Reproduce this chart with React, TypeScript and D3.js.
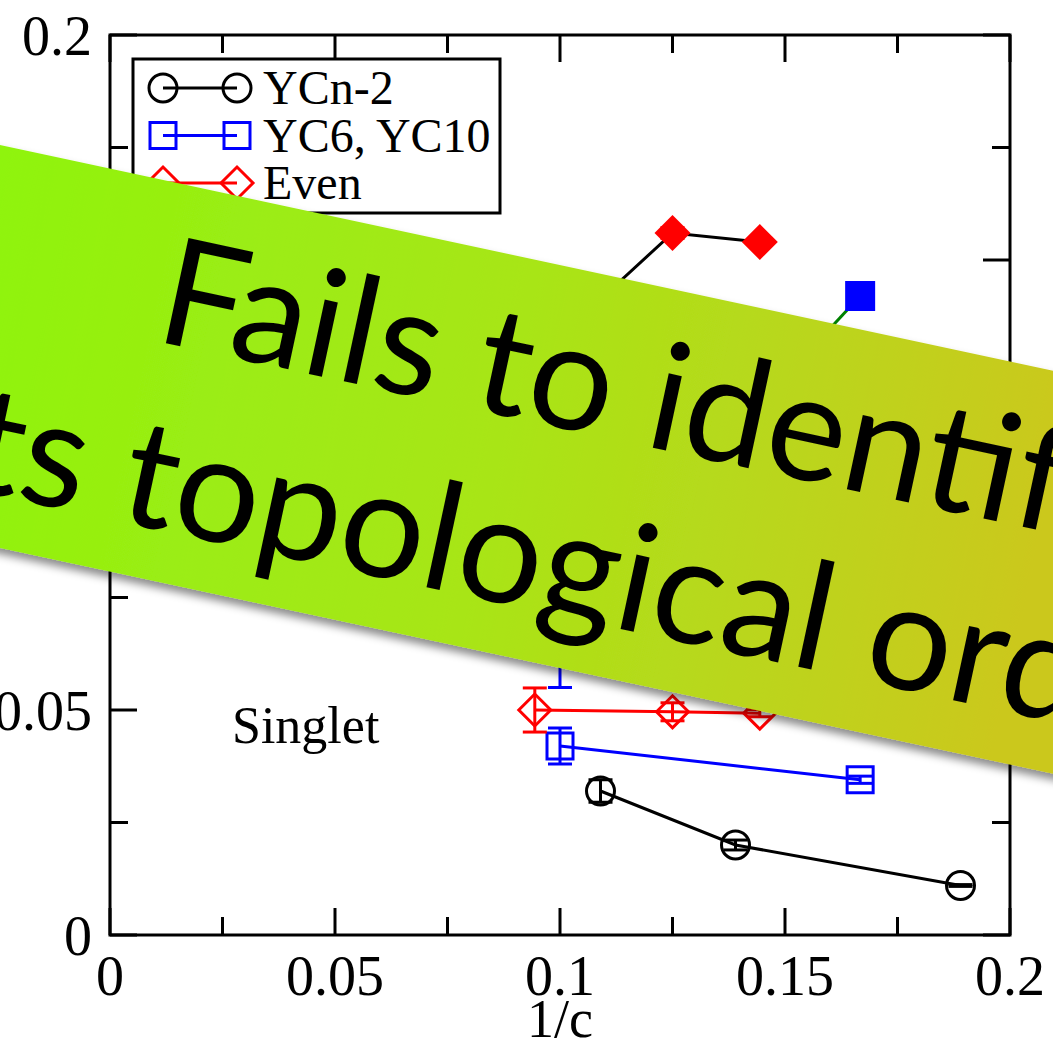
import React, { useEffect, useRef } from "react";
import * as d3 from "d3";

const W = 1053;
const H = 1052;

// open black circles, YCn-2
const ycnX = [0.109, 0.139, 0.189];
const ycnY = [0.032, 0.02, 0.011];
const ycnErr = [0.0025, 0.0011, 0.0002];

// open blue squares, YC6 / YC10
const yc610X = [0.1, 0.1667];
const yc610Y = [0.042, 0.0345];
const yc610Err = [0.004, 0.0008];

// open red diamonds, Even
const evenX = [0.0944, 0.125, 0.1444];
const evenY = [0.05, 0.0496, 0.0493];
const evenErr = [0.0049, 0.002, 0.0008];

// filled red diamonds (black line), mostly under the banner
const redFillX = [0.1, 0.125, 0.1444];
const redFillY = [0.133, 0.156, 0.154];
const redFillErr = [0, 0.0012, 0];

// filled blue squares (green line), mostly under the banner
const blueFillX = [0.1, 0.1667];
const blueFillY = [0.07, 0.142];
const blueFillErr = [0.015, 0];

const legendNames = ["YCn-2", "YC6, YC10", "Even"];
const xTickLabels = ["0", "0.05", "0.1", "0.15", "0.2"];
const yTickLabels = ["0", "0.05", "0.1", "0.15", "0.2"];
const bannerLines = ["Fails to identify", "its topological order"];

const App = () => {
  const ref = useRef<SVGSVGElement>(null);

  useEffect(() => {
    const svg = d3.select(ref.current);
    svg.selectAll("*").remove();

    const margin = { left: 110, right: 43, top: 35, bottom: 117 };
    const x = d3.scaleLinear().domain([0, 0.2]).range([margin.left, W - margin.right]);
    const y = d3.scaleLinear().domain([0, 0.2]).range([H - margin.bottom, margin.top]);
    const serif = "'Liberation Serif', 'Times New Roman', serif";

    const series = [
      { xs: ycnX, ys: ycnY, es: ycnErr, color: "#000", line: "#000", shape: "circle", filled: false },
      { xs: yc610X, ys: yc610Y, es: yc610Err, color: "#0000ff", line: "#0000ff", shape: "square", filled: false },
      { xs: evenX, ys: evenY, es: evenErr, color: "#ff0000", line: "#ff0000", shape: "diamond", filled: false },
      { xs: redFillX, ys: redFillY, es: redFillErr, color: "#ff0000", line: "#000", shape: "diamond", filled: true },
      { xs: blueFillX, ys: blueFillY, es: blueFillErr, color: "#0000ff", line: "#008000", shape: "square", filled: true },
    ];

    const drawMarker = (g, shape, cx, cy, color, filled) => {
      if (shape === "circle") {
        g.append("circle").attr("cx", cx).attr("cy", cy).attr("r", 14)
          .attr("fill", "none").attr("stroke", color).attr("stroke-width", 3);
      } else if (shape === "square") {
        const s = filled ? 15 : 13;
        g.append("rect").attr("x", cx - s).attr("y", cy - s).attr("width", 2 * s).attr("height", 2 * s)
          .attr("fill", filled ? color : "none").attr("stroke", filled ? "none" : color).attr("stroke-width", 3);
      } else {
        const s = filled ? 18 : 16;
        g.append("path").attr("d", `M${cx - s},${cy}L${cx},${cy - s}L${cx + s},${cy}L${cx},${cy + s}Z`)
          .attr("fill", filled ? color : "none").attr("stroke", filled ? "none" : color).attr("stroke-width", 3);
      }
    };

    // data
    const plot = svg.append("g");
    series.forEach((s) => {
      const pts = s.xs.map((v, i) => [x(v), y(s.ys[i])]);
      plot.append("path").attr("d", d3.line()(pts)).attr("fill", "none")
        .attr("stroke", s.line).attr("stroke-width", 3);
      s.xs.forEach((v, i) => {
        const cx = x(v);
        const y0 = y(s.ys[i] - s.es[i]);
        const y1 = y(s.ys[i] + s.es[i]);
        const eb = plot.append("g").attr("stroke", s.color).attr("stroke-width", 3);
        eb.append("line").attr("x1", cx).attr("x2", cx).attr("y1", y0).attr("y2", y1);
        eb.append("line").attr("x1", cx - 12).attr("x2", cx + 12).attr("y1", y0).attr("y2", y0);
        eb.append("line").attr("x1", cx - 12).attr("x2", cx + 12).attr("y1", y1).attr("y2", y1);
      });
      s.xs.forEach((v, i) => drawMarker(plot, s.shape, x(v), y(s.ys[i]), s.color, s.filled));
    });

    // frame and ticks
    const axes = svg.append("g").attr("stroke", "#000").attr("stroke-width", 3);
    axes.append("rect").attr("x", x(0)).attr("y", y(0.2)).attr("width", x(0.2) - x(0))
      .attr("height", y(0) - y(0.2)).attr("fill", "none");
    const ticks = d3.range(0, 9).map((i) => i * 0.025);
    ticks.forEach((t, i) => {
      const len = i % 2 === 0 ? 27 : 18;
      axes.append("line").attr("x1", x(t)).attr("x2", x(t)).attr("y1", y(0)).attr("y2", y(0) - len);
      axes.append("line").attr("x1", x(t)).attr("x2", x(t)).attr("y1", y(0.2)).attr("y2", y(0.2) + len);
      axes.append("line").attr("y1", y(t)).attr("y2", y(t)).attr("x1", x(0)).attr("x2", x(0) + len);
      axes.append("line").attr("y1", y(t)).attr("y2", y(t)).attr("x1", x(0.2)).attr("x2", x(0.2) - len);
    });

    const majors = d3.range(0, 5).map((i) => i * 0.05);
    svg.append("g").selectAll("text").data(majors).join("text")
      .attr("x", (d) => x(d)).attr("y", y(0) + 60).attr("text-anchor", "middle")
      .attr("font-family", serif).attr("font-size", 56).text((d, i) => xTickLabels[i]);
    svg.append("g").selectAll("text").data(majors).join("text")
      .attr("x", 92).attr("y", (d) => y(d) + 20).attr("text-anchor", "end")
      .attr("font-family", serif).attr("font-size", 56).text((d, i) => yTickLabels[i]);
    svg.append("text").attr("x", x(0.1)).attr("y", 1037).attr("text-anchor", "middle")
      .attr("font-family", serif).attr("font-size", 54).text("1/c");
    svg.append("text").attr("x", 232).attr("y", 743)
      .attr("font-family", serif).attr("font-size", 52).text("Singlet");

    // legend
    const leg = svg.append("g");
    leg.append("rect").attr("x", 133).attr("y", 59).attr("width", 367).attr("height", 154)
      .attr("fill", "#fff").attr("stroke", "#000").attr("stroke-width", 3);
    series.slice(0, 3).forEach((s, i) => {
      const ry = 88 + i * 47.5;
      leg.append("line").attr("x1", 163).attr("x2", 237).attr("y1", ry).attr("y2", ry)
        .attr("stroke", s.line).attr("stroke-width", 3);
      drawMarker(leg, s.shape, 163, ry, s.color, false);
      drawMarker(leg, s.shape, 237, ry, s.color, false);
      leg.append("text").attr("x", 263).attr("y", ry + 16).attr("font-family", serif)
        .attr("font-size", 48).text(legendNames[i]);
    });

    // banner overlay
    const defs = svg.append("defs");
    const grad = defs.append("linearGradient").attr("id", "bannerGrad")
      .attr("gradientUnits", "userSpaceOnUse").attr("x1", 0).attr("y1", 0).attr("x2", 1100).attr("y2", 0);
    grad.append("stop").attr("offset", 0).attr("stop-color", "#8ff40e");
    grad.append("stop").attr("offset", 0.5).attr("stop-color", "#a8e517");
    grad.append("stop").attr("offset", 1).attr("stop-color", "#cbc81f");
    const f = defs.append("filter").attr("id", "shadow").attr("x", "-10%").attr("y", "-10%")
      .attr("width", "120%").attr("height", "130%");
    f.append("feDropShadow").attr("dx", 0).attr("dy", 6).attr("stdDeviation", 4)
      .attr("flood-color", "#000").attr("flood-opacity", 0.45);

    const banner = svg.append("g").attr("transform", "translate(0,145) rotate(12.1)");
    banner.append("rect").attr("x", -400).attr("y", 0).attr("width", 1900).attr("height", 394)
      .attr("fill", "url(#bannerGrad)").attr("filter", "url(#shadow)");
    banner.append("text").attr("x", 190).attr("y", 159).attr("font-family", "Lato, 'Open Sans', sans-serif")
      .attr("font-size", 150).attr("fill", "#000").text(bannerLines[0]);
    banner.append("text").attr("x", -2).attr("y", 343).attr("font-family", "Lato, 'Open Sans', sans-serif")
      .attr("font-size", 150).attr("fill", "#000").text(bannerLines[1]);
  }, []);

  return (
    <svg
      ref={ref}
      width={W}
      height={H}
      style={{ position: "absolute", left: 0, top: 0, background: "#fff" }}
    />
  );
};

export default App;
